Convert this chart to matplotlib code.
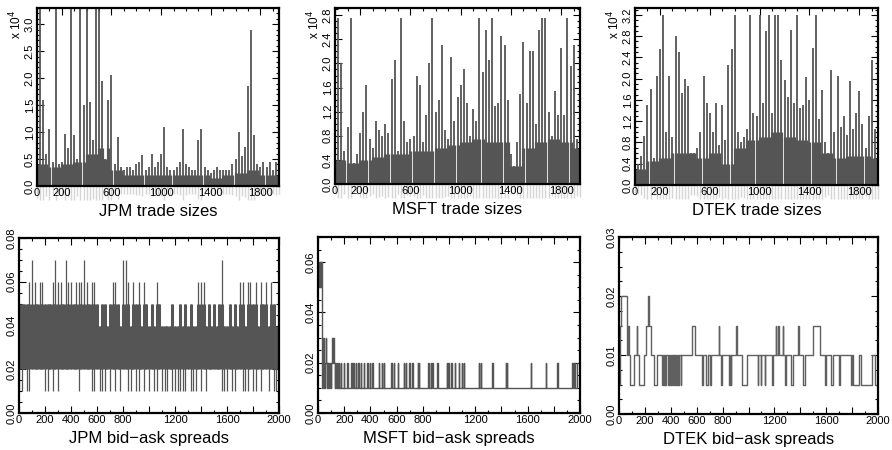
import matplotlib.pyplot as plt
from matplotlib.ticker import FixedLocator, MultipleLocator

plt.rcParams['font.family'] = ['Liberation Sans', 'DejaVu Sans']

# trade sizes: tallest trade in each 25-trade bin, in units of 10^4 shares
size_step = 25
jpm_size = [0.8, 3.5, 1.6, 0.6, 1.05, 0.45, 3.5, 0.4, 0.45, 0.97,
            0.7, 3.5, 0.95, 0.5, 3.5, 1.5, 3.5, 1.55, 0.85, 3.5,
            3.5, 1.95, 0.5, 1.6, 2.05, 0.4, 0.9, 0.35, 0.3, 0.35,
            0.35, 0.3, 0.4, 0.45, 0.57, 0.3, 0.35, 0.6, 0.35, 0.45,
            0.6, 1.1, 0.35, 0.3, 0.3, 0.35, 0.45, 1.05, 0.4, 0.35,
            0.3, 0.3, 0.85, 1.05, 0.35, 0.3, 0.25, 0.3, 0.35, 0.3,
            0.3, 0.3, 0.3, 0.4, 0.5, 1.0, 0.55, 0.72, 1.85, 2.9,
            0.95, 0.4, 0.35, 0.45, 0.35, 0.45, 0.3, 0.45, 0.3]
msft_size = [0.6, 2.75, 2.0, 0.55, 0.95, 2.75, 0.35, 0.5, 0.85, 1.2,
             1.65, 0.75, 0.6, 1.05, 0.9, 0.8, 1.0, 0.85, 1.75, 2.05,
             0.55, 2.75, 1.05, 0.7, 0.75, 0.8, 1.8, 1.65, 0.7, 1.15,
             2.0, 2.75, 1.2, 1.4, 2.3, 0.9, 0.75, 2.1, 1.05, 1.45,
             1.65, 1.9, 1.35, 0.8, 1.25, 1.05, 2.75, 1.85, 2.55, 2.05,
             2.75, 1.3, 1.35, 2.45, 2.3, 1.4, 0.5, 0.3, 0.7, 1.5,
             2.35, 1.35, 2.2, 2.2, 1.0, 2.55, 2.75, 2.75, 1.2, 0.8,
             1.55, 1.15, 2.25, 1.15, 2.75, 1.95, 2.3, 0.75, 0.85]
dtek_size = [0.35, 0.4, 0.55, 0.93, 1.5, 1.8, 0.5, 2.05, 2.55, 3.2,
             1.0, 2.05, 0.9, 2.8, 2.5, 1.73, 2.0, 1.87, 0.6, 0.6,
             0.7, 1.0, 2.06, 1.55, 1.35, 1.0, 1.54, 0.75, 1.5, 0.85,
             2.26, 2.56, 3.2, 1.0, 0.8, 0.9, 1.05, 3.2, 1.35, 1.3,
             3.2, 1.55, 2.89, 3.2, 1.35, 3.2, 3.2, 2.35, 1.97, 1.65,
             2.91, 1.55, 3.2, 1.45, 1.5, 2.03, 1.6, 2.58, 3.2, 1.25,
             1.79, 0.8, 0.6, 2.16, 1.0, 2.06, 1.1, 1.3, 0.95, 1.95,
             1.05, 1.35, 1.76, 1.15, 0.7, 1.29, 2.36, 1.05, 1.2]

# height of the dense part of each trace, per 100 trades (10^4 shares)
mass_step = 100
jpm_mass = [0.4, 0.35, 0.4, 0.45, 0.6, 0.7, 0.3, 0.2, 0.2, 0.2,
            0.2, 0.2, 0.2, 0.2, 0.15, 0.2, 0.25, 0.3, 0.2, 0.2]
msft_mass = [0.4, 0.35, 0.4, 0.45, 0.5, 0.5, 0.55, 0.55, 0.6, 0.65,
             0.7, 0.75, 0.7, 0.7, 0.3, 0.6, 0.7, 0.75, 0.7, 0.6]
dtek_mass = [0.3, 0.45, 0.5, 0.6, 0.6, 0.5, 0.6, 0.4, 0.7, 0.85,
             0.9, 1.0, 0.9, 0.85, 0.8, 0.6, 0.5, 0.55, 0.55, 0.5]

# JPM spread range (cents) in each 20-trade bin
jpm_step = 20
jpm_hi = [5, 5, 5, 5, 6, 7, 6, 5, 6, 6,
          5, 5, 5, 6, 7, 6, 6, 5, 7, 6,
          6, 5, 6, 6, 6, 7, 6, 5, 6, 6,
          5, 4, 5, 5, 4, 5, 6, 6, 5, 4,
          7, 7, 6, 4, 6, 5, 6, 4, 6, 5,
          4, 5, 4, 6, 5, 4, 4, 4, 4, 5,
          4, 4, 5, 4, 5, 4, 5, 4, 4, 6,
          6, 6, 4, 5, 4, 5, 4, 5, 7, 4,
          4, 5, 4, 5, 4, 6, 6, 4, 6, 6,
          5, 6, 4, 6, 5, 6, 4, 6, 5, 4, 5]
jpm_lo = [1, 1, 2, 1, 1, 2, 2, 2, 2, 2,
          1, 1, 2, 1, 2, 1, 2, 2, 2, 2,
          2, 2, 2, 1, 2, 2, 2, 2, 1, 1,
          2, 1, 1, 1, 2, 1, 2, 1, 2, 1,
          2, 2, 1, 1, 2, 1, 1, 2, 1, 2,
          1, 2, 1, 1, 2, 1, 1, 1, 2, 1,
          1, 1, 1, 1, 1, 2, 1, 1, 1, 2,
          1, 2, 1, 2, 2, 2, 2, 2, 1, 1,
          1, 2, 1, 1, 2, 2, 1, 1, 1, 2,
          1, 1, 2, 1, 2, 2, 1, 2, 1, 1, 2]

# MSFT spread (cents): opening quotes, then 1 cent with short 2-cent episodes
msft_head_x = [0, 4, 8, 11, 15, 18, 22, 25, 30, 34, 38, 44, 48, 52, 58, 62,
               66, 70, 76, 80, 86, 90, 96, 100, 108, 114, 118, 124, 128, 132, 136]
msft_head_c = [5, 6, 5, 6, 5, 6, 5, 6, 2, 1, 3, 2, 1, 2, 3, 2,
               1, 2, 1, 2, 1, 2, 1, 2, 3, 2, 3, 2, 1, 2, 1]
msft_wide_start = [148, 160, 173, 199, 224, 255, 270, 288, 308, 326, 351, 377,
                   397, 415, 466, 486, 504, 560, 580, 611, 657, 669, 695, 720,
                   764, 771, 842, 860, 873, 911, 982, 995, 1018, 1043, 1077,
                   1097, 1115, 1229, 1242, 1331, 1433, 1440, 1624, 1738, 1827,
                   1942, 1958, 1975]
msft_wide_end = [151, 163, 176, 202, 227, 258, 273, 292, 312, 329, 354, 380,
                 400, 418, 469, 490, 507, 564, 583, 614, 660, 672, 699, 724,
                 767, 774, 845, 863, 876, 914, 985, 998, 1021, 1046, 1080,
                 1100, 1118, 1232, 1245, 1334, 1436, 1443, 1627, 1741, 1830,
                 1946, 1961, 2000]

# DTEK spread change points, in half cents
dtek_x = [0, 5, 15, 58, 62, 68, 75, 82, 115, 138,
          142, 157, 195, 208, 225, 228, 245, 270, 295, 330,
          337, 345, 352, 358, 365, 380, 388, 393, 398, 410,
          418, 423, 428, 433, 440, 445, 452, 458, 465, 475,
          480, 560, 590, 640, 650, 675, 690, 705, 712, 770,
          773, 790, 798, 850, 855, 862, 868, 905, 908, 950,
          990, 1070, 1075, 1095, 1100, 1125, 1130, 1180, 1190, 1210,
          1215, 1225, 1235, 1265, 1268, 1280, 1290, 1330, 1345, 1385,
          1388, 1420, 1435, 1500, 1555, 1590, 1600, 1640, 1650, 1700,
          1710, 1790, 1800, 1810, 1850, 1870, 1950, 1975, 2000]
dtek_h = [1, 3, 4, 3, 2, 3, 2, 1, 2, 3,
          2, 1, 2, 3, 4, 3, 2, 1, 2, 1,
          2, 1, 2, 1, 2, 1, 2, 1, 2, 1,
          2, 1, 2, 1, 2, 1, 2, 1, 2, 1,
          2, 3, 2, 1, 2, 1, 2, 1, 2, 3,
          2, 1, 2, 1, 2, 1, 2, 3, 2, 1,
          2, 1, 2, 1, 2, 1, 2, 1, 2, 3,
          2, 3, 2, 3, 2, 1, 2, 1, 2, 3,
          2, 1, 2, 3, 2, 1, 2, 1, 2, 1,
          2, 1, 2, 1, 2, 1, 2, 1, 1]

size_ticks = [0, 200, 600, 1000, 1400, 1800]
spread_ticks = list(range(0, 2001, 200))
spread_labels = ['0', '200', '400', '600', '800', '', '1200', '', '1600', '', '2000']

W, H = 892, 450
GRAY = '#555555'
fig = plt.figure(figsize=(W / 100, H / 100), dpi=100)


def add_ax(l, r, t, b):
    return fig.add_axes([l / W, 1 - b / H, (r - l) / W, (b - t) / H])


def style(ax, xlim, xticks, xlabels, ylim, ymajor, yminor, yfmt, title):
    ax.set_xlim(*xlim)
    ax.set_ylim(*ylim)
    ax.xaxis.set_major_locator(FixedLocator(xticks))
    ax.set_xticklabels(xlabels)
    ax.xaxis.set_minor_locator(MultipleLocator(100))
    ax.yaxis.set_major_locator(MultipleLocator(ymajor))
    ax.yaxis.set_minor_locator(MultipleLocator(yminor))
    ax.set_yticklabels([yfmt % v for v in ax.get_yticks()])
    ax.tick_params(which='both', direction='in', top=True, right=True,
                   width=0.8, colors='black')
    ax.tick_params(which='major', length=5, labelsize=8, pad=1.5)
    ax.tick_params(which='minor', length=2.5)
    for lab in ax.get_yticklabels():
        lab.set_rotation(90)
        lab.set_va('center')
    for s in ax.spines.values():
        s.set_linewidth(1.6)
        s.set_zorder(5)
    ax.set_xlabel(title, fontsize=12, labelpad=4)


# top row: trade sizes
tops = [(jpm_size, jpm_mass, 'JPM trade sizes', (37, 279, 8, 186), 3.3, 0.5),
        (msft_size, msft_mass, 'MSFT trade sizes', (335, 580, 8, 184), 2.92, 0.4),
        (dtek_size, dtek_mass, 'DTEK trade sizes', (635, 878, 8, 185), 3.33, 0.4)]
for vals, mass, title, box, ymax, ymaj in tops:
    ax = add_ax(*box)
    xs = [i * size_step for i in range(len(vals))]
    dense = [min(v, mass[min(x // mass_step, len(mass) - 1)])
             for x, v in zip(xs, vals)]
    ax.vlines(xs, 0, dense, color=GRAY, lw=2.3)
    ax.vlines(xs, 0, vals, color=GRAY, lw=1.3)
    # faint smear of the trace just under the axis, as in the print
    px = ymax / (box[3] - box[2])
    ax.vlines(xs, 0, [-px * (5 + 9 * min(v, 1.0)) for v in vals],
              color='#d6d6d6', lw=1.0, clip_on=False, zorder=0)
    style(ax, (0, 1950), size_ticks, [str(t) for t in size_ticks],
          (0, ymax), ymaj, 0.1, '%.1f', title)
    fig.text((box[0] - 21) / W, 1 - (box[2] + 2) / H, r'x 10$^4$',
             rotation=90, ha='center', va='top', fontsize=8.5)

# bottom row: bid-ask spreads
ax = add_ax(19, 279, 238, 413)
xs = [i * jpm_step for i in range(len(jpm_hi))]
core_lo = [max(v, 2) / 100 for v in jpm_lo]
core_hi = [min(v, 5) / 100 for v in jpm_hi]
ax.vlines(xs, core_lo, core_hi, color=GRAY, lw=2.2)
ax.vlines(xs, [v / 100 for v in jpm_lo], [v / 100 for v in jpm_hi],
          color=GRAY, lw=0.9)
style(ax, (0, 2000), spread_ticks, spread_labels, (0, 0.08), 0.02, 0.005,
      '%.2f', 'JPM bid\u2212ask spreads')

ax = add_ax(318, 580, 237, 413)
mx = list(msft_head_x)
mc = list(msft_head_c)
for s, e in zip(msft_wide_start, msft_wide_end):
    mx += [s, e]
    mc += [2, 1]
ax.step(mx, [c / 100 for c in mc], where='post', color=GRAY, lw=1.0)
style(ax, (0, 2000), spread_ticks, spread_labels, (0, 0.07), 0.02, 0.005,
      '%.2f', 'MSFT bid\u2212ask spreads')

ax = add_ax(619, 878, 237, 414)
ax.step(dtek_x, [h * 0.005 for h in dtek_h], where='post', color='#606060', lw=1.0)
style(ax, (0, 2000), spread_ticks, spread_labels, (0, 0.03), 0.01, 0.0025,
      '%.2f', 'DTEK bid\u2212ask spreads')

fig.savefig('out.png', dpi=100)
